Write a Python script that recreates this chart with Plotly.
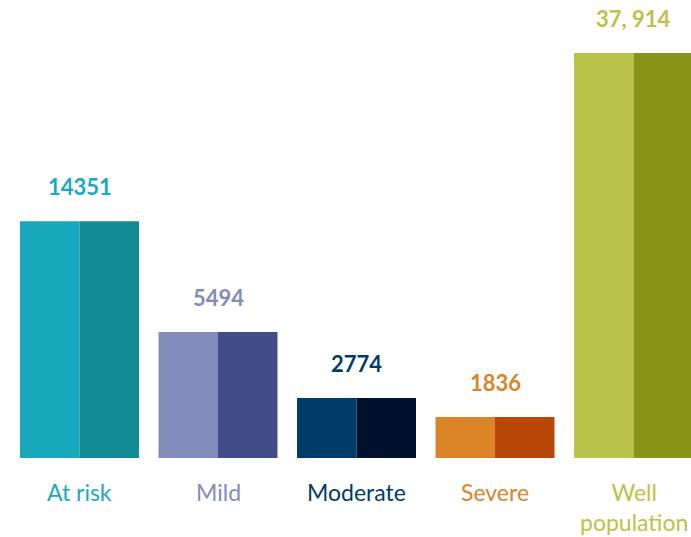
import plotly.graph_objects as go

categories = ["At risk", "Mild", "Moderate", "Severe", "Well<br>population"]
value_labels = ["14351", "5494", "2774", "1836", "37, 914"]
# bar heights as drawn in the picture (relative units, not proportional to labels)
bar_heights = [236.7, 126, 60, 41, 405]
light_colors = ["#16A9BC", "#828BBA", "#003C69", "#DB8428", "#BAC248"]
dark_colors = ["#128A96", "#424C88", "#00112E", "#B84607", "#869515"]
text_colors = ["#1AAABD", "#828BBA", "#003C69", "#DB8428", "#BAC248"]

x = list(range(len(categories)))

fig = go.Figure()
fig.add_trace(go.Bar(x=x, y=bar_heights, marker=dict(color=light_colors, line=dict(width=0)),
                     hoverinfo="skip"))
fig.add_trace(go.Bar(x=x, y=bar_heights, marker=dict(color=dark_colors, line=dict(width=0)),
                     hoverinfo="skip"))

for i, (lab, h, c) in enumerate(zip(value_labels, bar_heights, text_colors)):
    fig.add_annotation(x=i, y=h, xref="x", yref="y", text="<b>" + lab + "</b>",
                       showarrow=False, yanchor="middle", yshift=35,
                       font=dict(family="Lato", size=22, color=c))

for i, (cat, c) in enumerate(zip(categories, text_colors)):
    fig.add_annotation(x=i, y=0, xref="x", yref="paper", text=cat,
                       showarrow=False, yanchor="top", yshift=-18,
                       font=dict(family="Lato", size=23, color=c))

fig.update_layout(
    width=691, height=537,
    margin=dict(l=0, r=0, t=0, b=79),
    barmode="group", bargap=0.141, bargroupgap=0,
    showlegend=False,
    plot_bgcolor="white", paper_bgcolor="white",
    xaxis=dict(range=[-0.574, 4.415], visible=False, fixedrange=True),
    yaxis=dict(range=[0, 458], visible=False, fixedrange=True),
)
fig.write_html(
    "out.html",
    config={"displayModeBar": False, "staticPlot": True},
    post_script="document.body.style.margin='0';document.body.style.overflow='hidden';",
)
